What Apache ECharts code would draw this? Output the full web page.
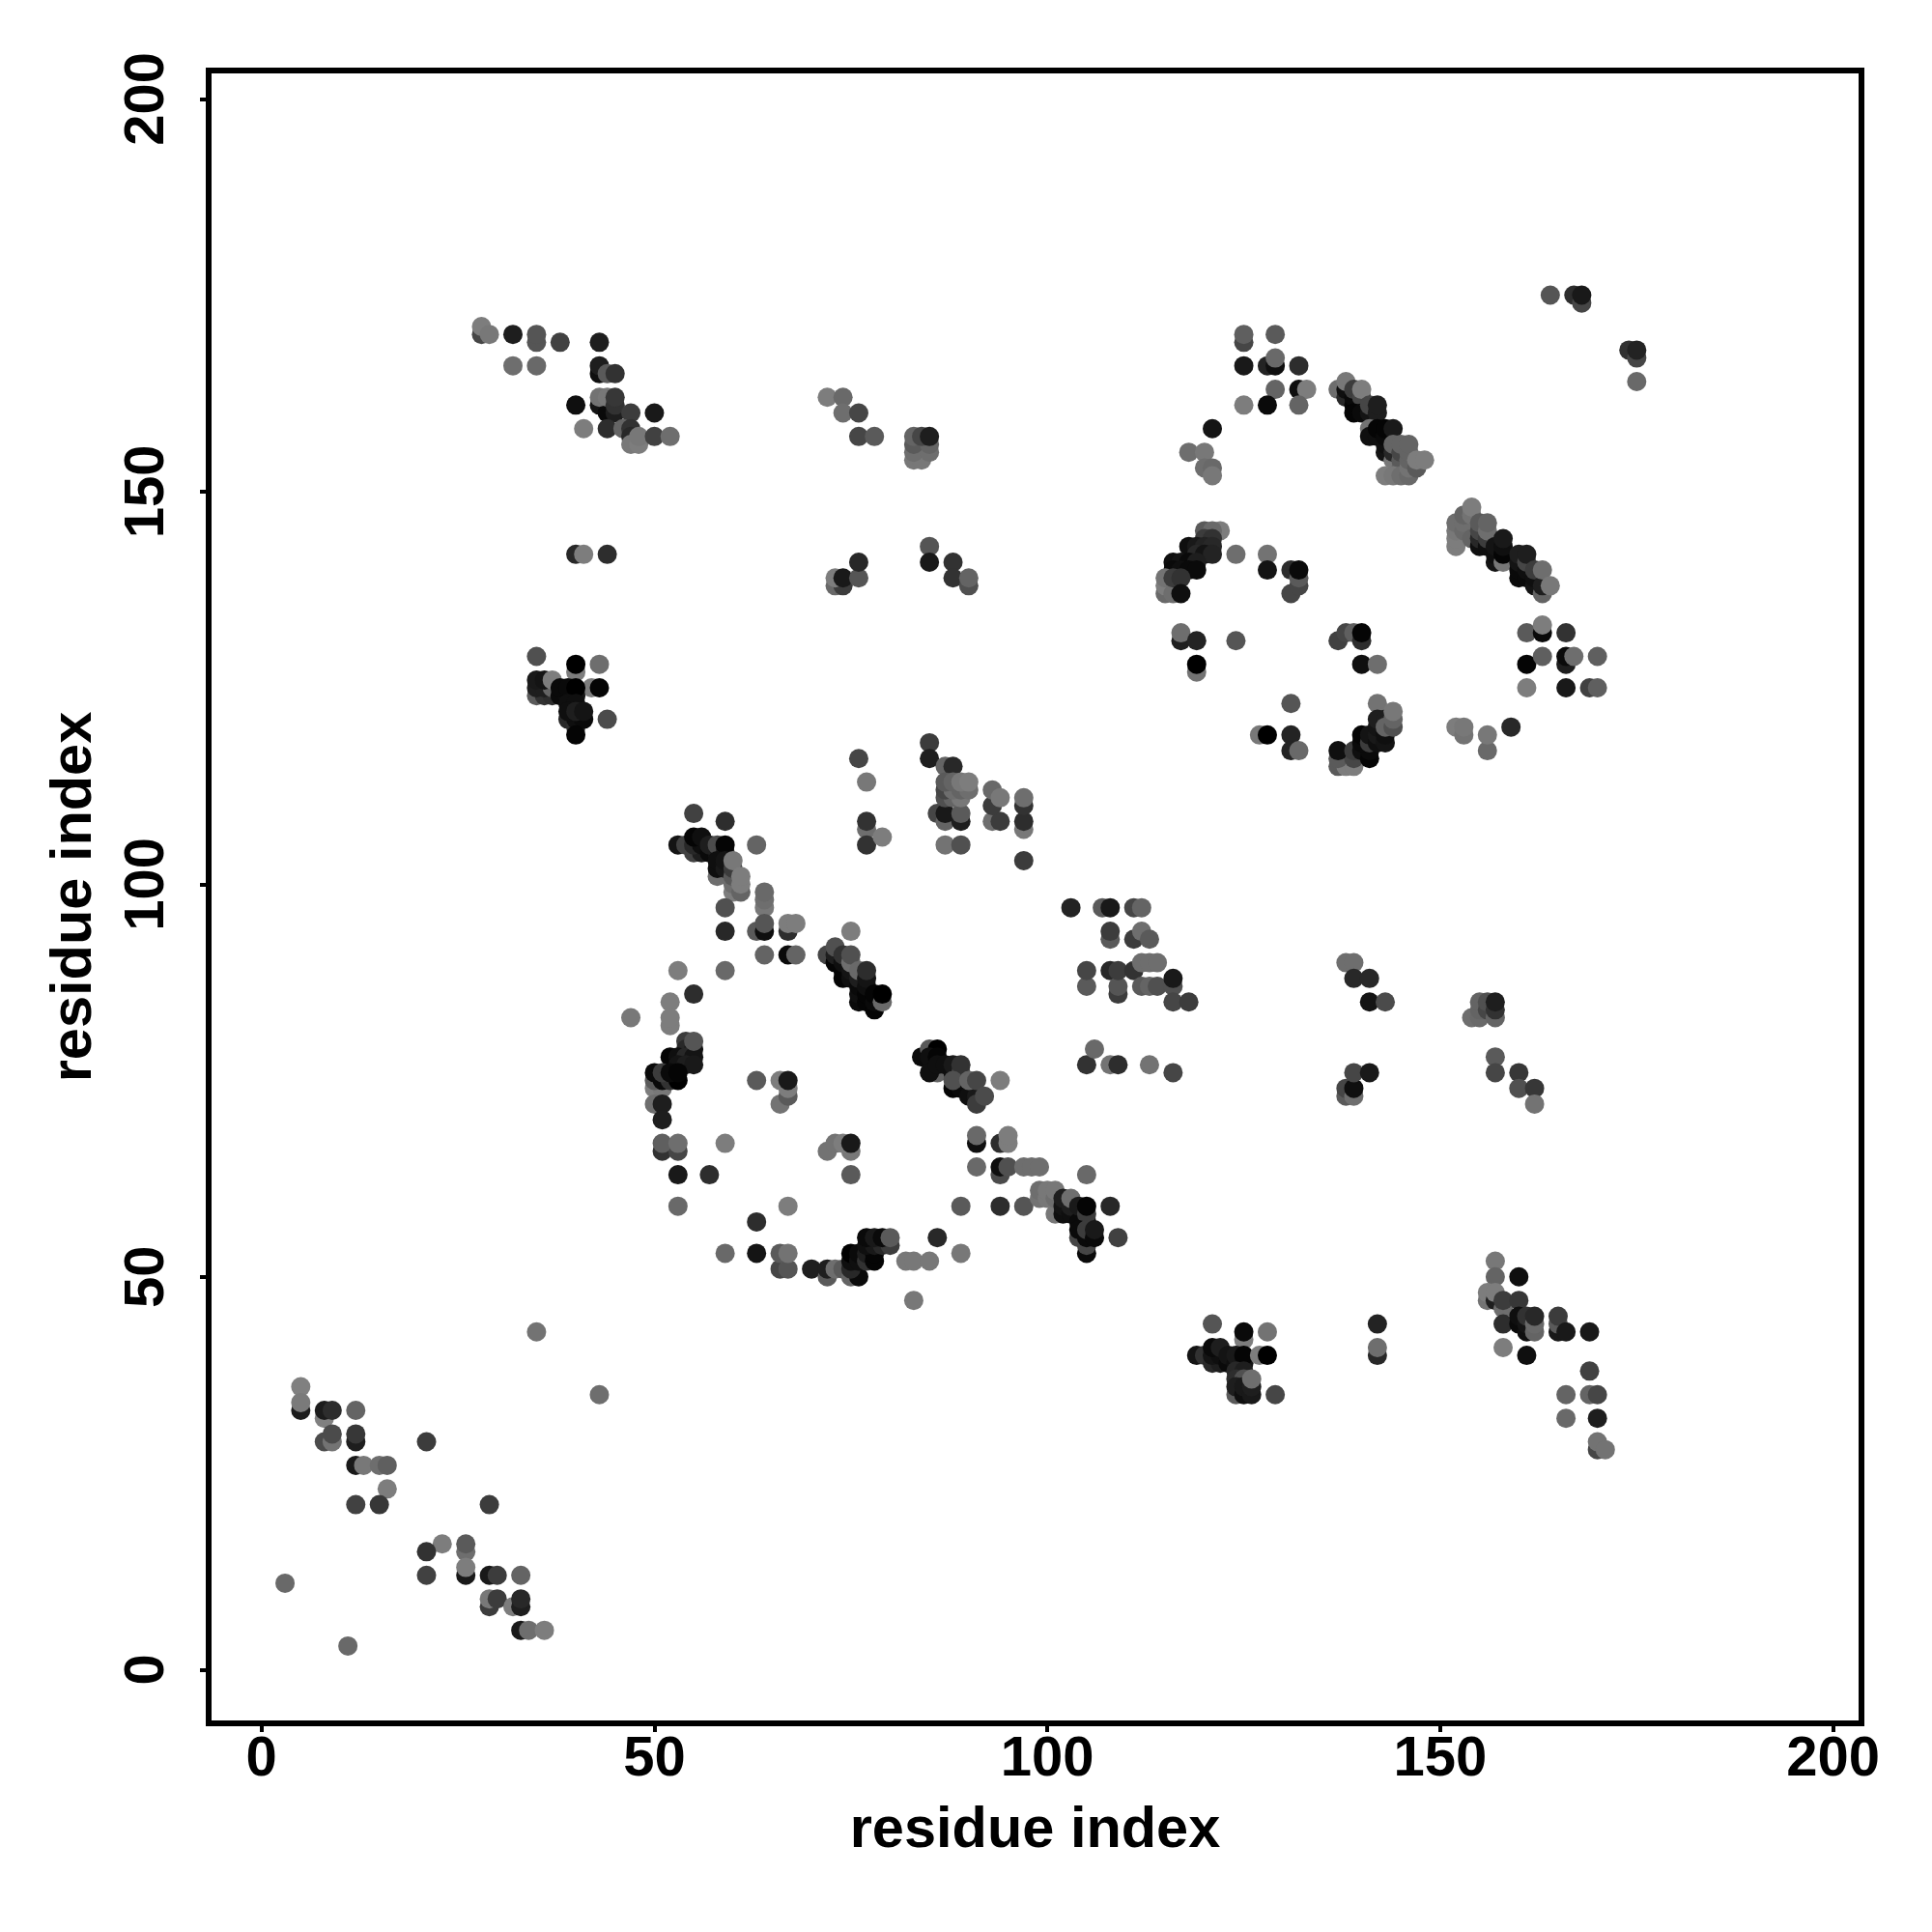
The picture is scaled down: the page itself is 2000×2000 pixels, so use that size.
<!DOCTYPE html>
<html><head><meta charset="utf-8">
<style>html,body{margin:0;padding:0;background:#fff}#c{width:2000px;height:2000px}</style>
<script src="https://cdn.jsdelivr.net/npm/echarts@6/dist/echarts.min.js"></script>
</head><body><div id="c"></div>
<script>
// Each contact is [residue x, residue y, shade], shade: 0 (darkest) .. 128 (lightest)
const tickValues = [0, 50, 100, 150, 200];
const axisTitle = 'residue index';
const clusterLowLeft = [[5,33,28],[5,36,128],[5,34,122],[8,32,128],[8,33,28],[9,33,45],[12,33,100],[8,29,75],[9,29,115],[9,30,75],[12,29,30],[12,30,55],[21,29,60],[12,26,25],[13,26,120],[15,26,110],[16,26,95],[16,23,125],[12,21,65],[15,21,55],[29,21,60],[23,16,125],[26,15,110],[26,16,90],[21,15,50],[21,12,65],[26,12,25],[26,13,125],[29,12,25],[30,12,60],[33,12,100],[29,8,60],[29,9,120],[30,9,60],[32,8,125],[33,8,30],[33,9,40],[33,5,25],[34,5,110],[36,5,125],[3,11,105],[11,3,105],[35,43,115],[43,35,110]];
const clusterTopLeft = [[28,170,70],[28,171,125],[29,170,120],[32,170,30],[35,169,85],[35,170,85],[38,169,65],[43,169,30],[32,166,110],[35,166,105],[43,165,15],[43,166,30],[44,165,90],[45,165,50],[43,161,20],[40,161,15],[44,160,10],[45,160,30],[43,162,115],[44,162,120],[45,161,50],[45,162,55],[47,160,60],[50,160,25],[41,158,125],[44,158,45],[46,158,100],[47,158,50],[47,157,40],[47,156,120],[48,156,125],[48,157,120],[50,157,65],[52,157,110],[40,142,40],[41,142,125],[44,142,45]];
const clusterLeftMid = [[35,129,80],[40,127,125],[40,128,0],[43,128,110],[35,124,90],[36,124,50],[37,124,45],[35,125,30],[36,125,30],[37,125,100],[35,126,25],[36,126,20],[37,126,125],[42,125,125],[38,124,10],[39,124,15],[40,124,20],[38,125,10],[39,125,10],[40,125,0],[43,125,5],[39,121,40],[40,120,45],[40,121,15],[41,121,10],[39,123,15],[40,123,15],[39,122,15],[40,122,30],[41,122,20],[44,121,75],[40,119,5]];
const clusterTopMid = [[72,162,125],[74,162,105],[74,160,110],[76,160,70],[76,157,70],[78,157,90],[73,138,105],[74,138,60],[73,139,125],[74,139,25],[76,139,85],[76,141,40],[85,143,85],[85,141,25],[88,141,50],[88,139,50],[90,138,80],[90,139,100],[83,154,120],[84,154,120],[83,155,110],[85,155,110],[83,156,90],[85,156,100],[83,157,100],[84,157,70],[85,157,30]];
const clusterRingA = [[53,89,125],[59,89,105],[55,86,45],[52,85,125],[47,83,120],[52,82,125],[52,83,125],[54,80,60],[54,79,40],[55,79,20],[52,78,5],[53,78,15],[54,78,40],[55,78,20],[53,77,20],[54,77,30],[55,77,25],[55,80,85],[50,74,125],[51,74,120],[50,75,90],[51,75,10],[52,75,50],[53,75,0],[50,76,10],[51,76,60],[52,76,10],[53,76,5],[50,72,110],[51,72,30],[51,70,30],[51,66,50],[53,66,70],[51,67,95],[53,67,110],[59,67,125],[53,63,25],[57,63,45],[53,59,105],[67,59,125],[63,57,45],[59,53,105],[63,53,20],[66,51,70],[67,51,85],[66,53,90],[67,53,115],[70,51,30],[72,50,90],[72,51,30],[63,75,90],[66,72,115],[67,73,90],[67,74,125],[66,75,125],[67,75,25],[72,66,115],[75,66,120],[73,67,115],[74,67,125],[75,67,25],[75,63,90],[73,51,110],[74,51,90],[75,50,100],[76,50,10],[75,51,40],[75,52,15],[75,53,0],[76,52,15],[76,53,10],[77,52,50],[77,53,30],[78,52,5],[78,53,5],[77,54,15],[78,54,25],[79,54,40],[80,54,60],[77,55,10],[78,55,25],[79,55,10],[80,55,90],[82,52,120],[83,52,120],[85,52,120],[83,47,120],[86,55,40],[89,53,120]];
const clusterDiagA = [[86,76,100],[84,78,10],[85,79,90],[86,79,0],[85,78,15],[86,78,5],[85,76,15],[86,77,15],[87,77,15],[88,76,15],[88,77,25],[89,76,70],[89,77,50],[88,74,5],[89,74,10],[88,75,80],[90,73,15],[91,73,25],[90,75,100],[91,72,60],[91,75,70],[92,73,75],[94,75,125]];
const clusterDiagB = [[53,105,20],[54,105,65],[55,104,65],[56,104,30],[55,105,40],[56,105,15],[55,106,5],[56,106,15],[57,104,10],[58,104,20],[57,105,30],[58,105,75],[59,104,35],[59,105,5],[58,101,110],[58,102,15],[58,103,15],[59,102,25],[59,103,20],[60,99,125],[60,100,110],[60,101,90],[60,102,60],[60,103,120],[61,99,100],[61,100,125],[61,101,125],[55,109,65],[59,108,45],[63,105,100],[64,97,120],[64,98,110],[64,99,105],[59,97,80],[63,94,90],[64,94,15],[64,95,85],[59,94,40],[67,94,45],[67,95,125],[68,95,125],[64,91,100],[67,91,10],[68,91,100],[75,94,125]];
const clusterDiagC = [[72,91,70],[73,90,5],[73,91,30],[73,92,80],[74,88,5],[74,89,5],[74,90,15],[75,88,15],[75,89,20],[74,91,50],[75,90,110],[75,91,80],[76,85,10],[76,86,15],[76,87,10],[76,88,30],[76,89,105],[77,85,5],[77,86,5],[77,87,15],[77,88,20],[77,89,45],[78,84,5],[78,85,10],[78,86,5],[79,85,105],[79,86,0]];
const clusterUpperMid = [[77,107,110],[77,108,50],[77,105,50],[79,106,125],[76,116,70],[77,113,120],[85,118,60],[85,116,30],[87,115,100],[88,115,40],[86,109,70],[87,108,100],[87,109,25],[89,108,30],[89,109,90],[87,111,80],[88,111,100],[89,111,120],[87,112,70],[88,112,110],[89,112,100],[90,112,110],[87,113,90],[88,113,100],[89,113,120],[90,113,125],[93,108,110],[94,108,60],[93,110,60],[93,112,105],[94,111,120],[97,107,120],[97,108,45],[97,110,50],[97,111,110],[87,105,115],[89,105,80],[97,103,60]];
const clusterRingALow = [[91,64,105],[91,67,15],[91,68,105],[94,67,45],[95,67,125],[95,68,125],[94,63,75],[94,64,15],[95,64,80],[97,64,110],[98,64,110],[99,64,110],[105,63,105],[89,59,90],[94,59,45],[97,59,85],[101,58,120],[99,60,115],[99,61,110],[100,60,120],[100,61,120],[101,60,110],[101,61,120],[102,58,15],[102,59,20],[102,60,30],[103,58,15],[103,59,30],[103,60,110],[104,57,10],[104,59,25],[105,57,15],[105,58,60],[105,59,5],[108,59,40],[104,55,70],[104,56,10],[105,53,10],[105,54,70],[105,55,10],[105,56,60],[106,55,10],[106,56,25],[109,55,65]];
const clusterCentre = [[103,97,35],[107,97,90],[108,97,25],[111,97,70],[112,97,100],[108,93,90],[108,94,60],[111,93,60],[112,94,110],[113,93,90],[105,87,90],[105,89,70],[108,89,40],[109,86,60],[109,87,85],[109,89,60],[111,89,50],[112,87,90],[112,90,110],[113,87,100],[113,90,110],[114,87,80],[114,90,110],[116,87,80],[116,88,25],[116,85,70],[118,85,60],[105,77,50],[106,79,105],[108,77,115],[109,77,45],[113,77,115],[116,76,70]];
const clusterRingB = [[122,145,125],[120,145,90],[121,145,105],[120,144,60],[121,144,50],[118,143,15],[119,143,25],[120,143,35],[121,143,40],[119,142,40],[120,142,20],[121,142,35],[124,142,110],[116,141,15],[117,141,20],[118,141,10],[119,141,30],[116,140,10],[117,140,15],[118,140,10],[119,140,10],[115,137,105],[115,138,125],[115,139,115],[116,137,110],[116,139,60],[117,139,50],[117,137,15],[128,142,115],[128,140,20],[131,140,45],[131,137,70],[132,138,70],[132,139,90],[132,140,10],[117,131,30],[117,132,110],[119,131,35],[124,131,85],[119,127,115],[119,128,0],[137,131,65],[138,132,70],[139,132,95],[140,131,45],[140,132,5],[140,128,15],[142,128,110],[131,123,85],[127,119,120],[128,119,0],[131,119,35],[131,117,35],[132,117,105],[142,123,115],[137,115,90],[138,115,125],[139,115,125],[137,116,90],[139,116,70],[137,117,15],[139,117,60],[140,117,15],[141,116,5],[141,117,10],[140,118,10],[140,119,5],[141,118,60],[141,119,20],[142,118,15],[142,119,25],[142,120,20],[142,121,30],[143,118,20],[143,119,15],[143,121,30],[143,120,100],[144,120,80],[144,121,100],[144,122,120]];
const clusterTopRight = [[125,169,70],[125,170,95],[129,170,90],[125,166,25],[128,166,35],[129,166,15],[129,167,105],[132,166,45],[129,163,100],[132,163,15],[133,163,125],[125,161,125],[128,161,10],[132,161,100],[121,158,20],[118,155,110],[120,155,120],[120,153,110],[121,153,105],[121,152,120],[164,175,85],[167,175,45],[168,174,70],[168,175,25],[174,168,50],[175,167,70],[175,168,35],[175,164,105]];
const clusterDiagD = [[137,163,110],[138,162,40],[138,163,15],[138,164,120],[139,161,5],[139,162,10],[139,163,60],[140,162,70],[140,163,125],[139,160,5],[140,160,10],[141,160,20],[141,161,70],[142,160,30],[142,161,30],[141,158,115],[141,157,15],[142,157,15],[142,158,5],[143,155,20],[143,156,15],[143,157,10],[143,158,5],[144,158,25],[144,154,120],[144,155,40],[144,156,100],[145,153,100],[145,154,90],[145,155,70],[145,156,100],[143,152,125],[144,152,120],[145,152,110],[146,152,105],[146,153,115],[146,154,100],[146,155,100],[146,156,100],[147,153,90],[147,154,125],[148,154,125]];
const clusterDiagE = [[152,143,125],[152,144,125],[152,145,120],[152,146,110],[153,145,105],[153,146,110],[153,147,100],[154,144,100],[154,147,115],[154,148,125],[155,143,15],[155,144,40],[155,145,70],[155,146,90],[156,143,15],[156,144,60],[156,145,110],[156,146,100],[157,141,20],[157,142,15],[157,143,20],[158,141,120],[158,142,5],[158,143,15],[158,144,25],[160,139,10],[160,140,10],[160,141,20],[160,142,30],[161,139,10],[161,140,15],[161,141,70],[161,142,30],[162,138,20],[162,139,15],[162,140,60],[163,137,100],[163,138,30],[163,140,110],[164,138,120]];
const clusterRight = [[161,132,90],[163,132,10],[163,133,125],[166,132,50],[161,128,5],[163,129,95],[166,128,30],[166,129,10],[167,129,110],[170,129,95],[161,125,125],[166,125,25],[169,125,65],[170,125,95],[152,120,125],[153,119,115],[153,120,120],[156,117,105],[156,119,120],[159,120,40],[138,90,110],[139,90,110],[139,88,40],[141,88,40],[141,85,20],[143,85,75],[154,83,110],[155,83,105],[155,84,100],[155,85,100],[156,84,70],[156,85,80],[157,83,100],[157,84,50],[157,85,30],[157,78,90],[157,76,70],[160,76,55],[160,74,80],[162,74,55],[162,72,115],[138,73,90],[138,74,70],[139,73,110],[139,74,15],[139,76,70],[141,76,25]];
const clusterLowRight = [[121,44,85],[125,42,125],[125,43,10],[128,43,115],[119,40,20],[120,40,50],[121,39,40],[122,39,30],[121,40,20],[122,40,15],[121,41,10],[122,41,30],[123,39,10],[123,40,20],[124,39,15],[124,40,25],[125,39,20],[125,40,5],[127,40,125],[128,40,0],[124,38,40],[125,38,30],[124,37,45],[125,37,80],[124,35,90],[124,36,30],[125,35,15],[125,36,25],[126,35,25],[126,36,30],[126,37,110],[129,35,70],[142,40,40],[142,41,110],[142,44,35],[157,52,120],[157,50,100],[160,50,15],[156,47,115],[156,48,125],[157,47,30],[157,48,125],[158,46,110],[158,47,60],[160,47,55],[158,44,45],[160,44,10],[160,45,15],[161,43,15],[161,44,20],[161,45,50],[162,43,100],[162,44,105],[162,45,40],[165,43,25],[165,44,90],[165,45,60],[166,43,25],[169,43,25],[158,41,125],[161,40,15],[169,38,65],[166,35,100],[169,35,100],[170,35,70],[166,32,105],[170,32,30],[170,28,70],[170,29,115],[171,28,115]];

const contacts = [].concat(clusterLowLeft, clusterTopLeft, clusterLeftMid, clusterTopMid, clusterRingA, clusterDiagA, clusterDiagB, clusterDiagC, clusterUpperMid, clusterRingALow, clusterCentre, clusterRingB, clusterTopRight, clusterDiagD, clusterDiagE, clusterRight, clusterLowRight);

const font = 'Liberation Sans';
const chart = echarts.init(document.getElementById('c'), null, {renderer:'canvas'});
function axis(rotate, labelMargin, nameGap, min, max){
  return {
    type:'value', min:min, max:max,
    name:axisTitle, nameLocation:'middle', nameGap:nameGap,
    nameTextStyle:{fontFamily:font,fontWeight:'bold',fontSize:59.5,color:'#000'},
    axisLine:{show:false,onZero:false},
    axisTick:{show:true,length:9,inside:false,lineStyle:{color:'#000',width:4},customValues:tickValues},
    axisLabel:{show:true,rotate:rotate,margin:labelMargin,fontFamily:font,fontWeight:'bold',fontSize:58,color:'#000',customValues:tickValues,hideOverlap:false,showMinLabel:true,showMaxLabel:true},
    splitLine:{show:false}
  };
}
chart.setOption({
  animation:false,
  backgroundColor:'#fff',
  grid:{left:216,right:73,top:73,bottom:216,show:true,borderColor:'#000',borderWidth:6,backgroundColor:'transparent',containLabel:false},
  xAxis:axis(0,9,82,-6.72,203.6),
  yAxis:axis(90,34,108,-6.85,203.6),
  visualMap:{show:false,dimension:2,min:0,max:128,inRange:{color:['#000000','#808080']}},
  series:[{type:'scatter',data:contacts,symbol:'circle',symbolSize:20,clip:false,itemStyle:{opacity:1},large:false,progressive:0}]
});
</script></body></html>
